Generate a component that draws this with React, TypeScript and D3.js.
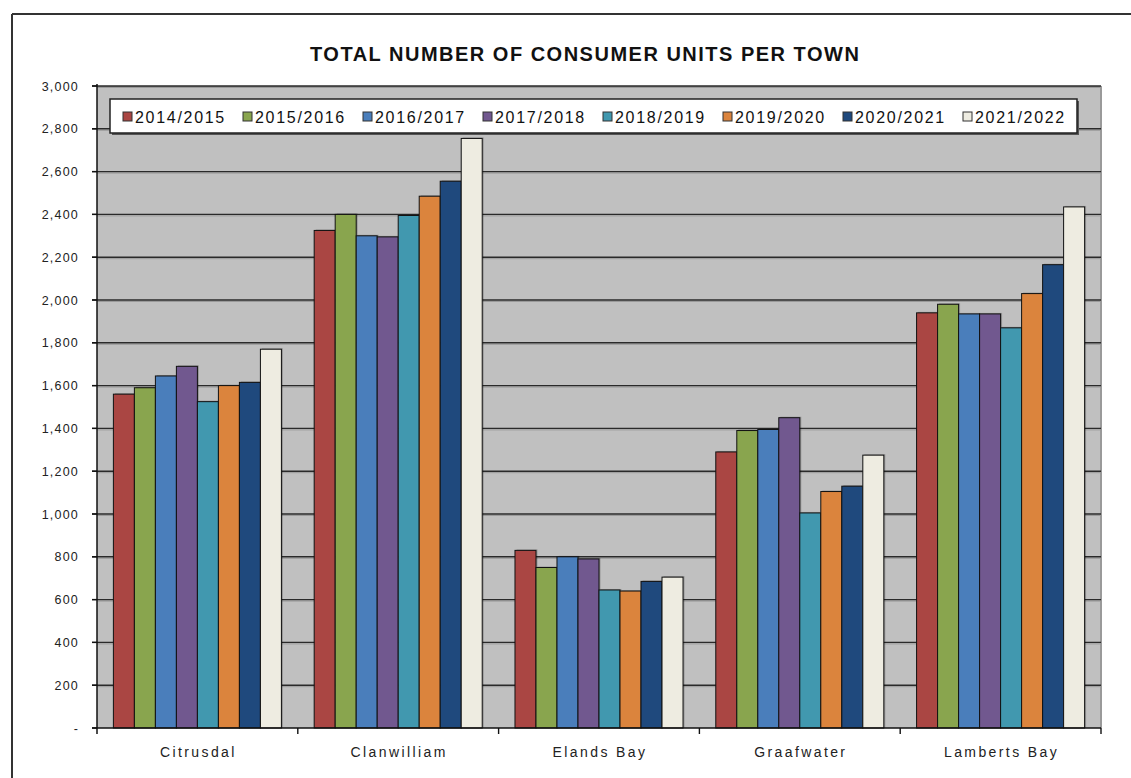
import React from "react";
import * as d3 from "d3";

const towns = ["Citrusdal", "Clanwilliam", "Elands Bay", "Graafwater", "Lamberts Bay"];
const years = ["2014/2015", "2015/2016", "2016/2017", "2017/2018", "2018/2019", "2019/2020", "2020/2021", "2021/2022"];
const colors = ["#AA4643", "#89A54E", "#4A7EBB", "#71588F", "#4198AF", "#DB843D", "#1F497D", "#EEECE1"];

const v2014 = [1560, 2325, 830, 1290, 1940];
const v2015 = [1590, 2400, 750, 1390, 1980];
const v2016 = [1645, 2300, 800, 1395, 1935];
const v2017 = [1690, 2295, 790, 1450, 1935];
const v2018 = [1525, 2395, 645, 1005, 1870];
const v2019 = [1600, 2485, 640, 1105, 2030];
const v2020 = [1615, 2555, 685, 1130, 2165];
const v2021 = [1770, 2755, 705, 1275, 2435];
const series = [v2014, v2015, v2016, v2017, v2018, v2019, v2020, v2021];

const yTicks = [0, 200, 400, 600, 800, 1000, 1200, 1400, 1600, 1800, 2000, 2200, 2400, 2600, 2800, 3000];
const title = "TOTAL NUMBER OF CONSUMER UNITS PER TOWN";

const W = 1131, H = 778;
const plot = { left: 97, right: 1101, top: 86, bottom: 728 };
const FONT = "'Liberation Sans', Arial, sans-serif";

export default function App() {
  const x0 = d3.scaleBand<string>().domain(towns).range([plot.left, plot.right]).paddingInner(0).paddingOuter(0);
  const x1 = d3.scaleBand<string>().domain(years).range([0, x0.bandwidth()]).paddingInner(0).paddingOuter(0.78);
  const y = d3.scaleLinear().domain([0, 3000]).range([plot.bottom, plot.top]);
  const fmt = (v: number) => (v === 0 ? "-" : d3.format(",")(v));

  const legendX0 = 123;
  const legendStep = 120;

  return (
    <svg width={W} height={H} style={{ position: "absolute", left: 0, top: 0, background: "#fff" }} fontFamily={FONT}>
      {/* outer frame */}
      <line x1={12} y1={14} x2={W} y2={14} stroke="#333" strokeWidth={2} />
      <line x1={12} y1={14} x2={12} y2={H} stroke="#333" strokeWidth={2} />

      {/* title */}
      <text x={310} y={61} fontSize={20} fontWeight="bold" letterSpacing={1.5} fill="#111">{title}</text>

      {/* plot area */}
      <rect x={plot.left} y={plot.top} width={plot.right - plot.left} height={plot.bottom - plot.top} fill="#C0C0C0" />
      <line x1={plot.left} y1={plot.top + 0.5} x2={plot.right} y2={plot.top + 0.5} stroke="#8a8a8a" strokeWidth={1} />
      <line x1={plot.right} y1={plot.top} x2={plot.right} y2={plot.bottom} stroke="#9a9a9a" strokeWidth={2} />

      {/* gridlines */}
      {yTicks.filter((t) => t > 0).map((t) => (
        <g key={"g" + t}>
          <line x1={plot.left} x2={plot.right} y1={y(t) + 1.5} y2={y(t) + 1.5} stroke="#9a9a9a" strokeWidth={1} />
          <line x1={plot.left - 5} x2={plot.right} y1={y(t)} y2={y(t)} stroke="#2a2a2a" strokeWidth={1.4} />
        </g>
      ))}

      {/* bars */}
      {towns.map((town, i) => (
        <g key={town} transform={`translate(${x0(town)},0)`}>
          {years.map((yr, j) => {
            const v = series[j][i];
            const bx = x1(yr)!;
            const bw = x1.bandwidth();
            return (
              <g key={yr}>
                <rect x={bx + 1.5} y={y(v) - 1} width={bw} height={y(0) - y(v) + 1} fill="rgba(0,0,0,0.22)" />
                <rect x={bx} y={y(v)} width={bw} height={y(0) - y(v)} fill={colors[j]} stroke="#111" strokeWidth={1} />
              </g>
            );
          })}
        </g>
      ))}

      {/* axes */}
      <line x1={plot.left} x2={plot.left} y1={plot.top - 2} y2={plot.bottom + 6} stroke="#111" strokeWidth={1.5} />
      <line x1={plot.left - 5} x2={plot.right} y1={plot.bottom} y2={plot.bottom} stroke="#111" strokeWidth={1.5} />
      {yTicks.map((t) => (
        <g key={"t" + t}>
          <line x1={plot.left - 5} x2={plot.left} y1={y(t)} y2={y(t)} stroke="#111" strokeWidth={1.4} />
          <text x={79} y={y(t) + 4.5} textAnchor="end" fontSize={12.5} letterSpacing={1.2} fill="#222">{fmt(t)}</text>
        </g>
      ))}
      {towns.map((town, i) => (
        <line key={"xt" + i} x1={x0(town)! + x0.bandwidth()} x2={x0(town)! + x0.bandwidth()} y1={plot.bottom} y2={plot.bottom + 6} stroke="#111" strokeWidth={1.4} />
      ))}
      {towns.map((town) => (
        <text key={"xl" + town} x={x0(town)! + x0.bandwidth() / 2 + 1} y={757} textAnchor="middle" fontSize={14} letterSpacing={2.4} fill="#222">{town}</text>
      ))}

      {/* legend */}
      <rect x={112} y={101} width={967} height={34} fill="#555" />
      <rect x={110} y={99} width={967} height={34} fill="#fff" stroke="#222" strokeWidth={1.5} />
      {years.map((yr, j) => (
        <g key={"lg" + yr} transform={`translate(${legendX0 + j * legendStep},0)`}>
          <rect x={0} y={112} width={9} height={9} fill={colors[j]} stroke="#333" strokeWidth={1} />
          <text x={12} y={122.5} fontSize={16} letterSpacing={1.7} fill="#111">{yr}</text>
        </g>
      ))}
    </svg>
  );
}
